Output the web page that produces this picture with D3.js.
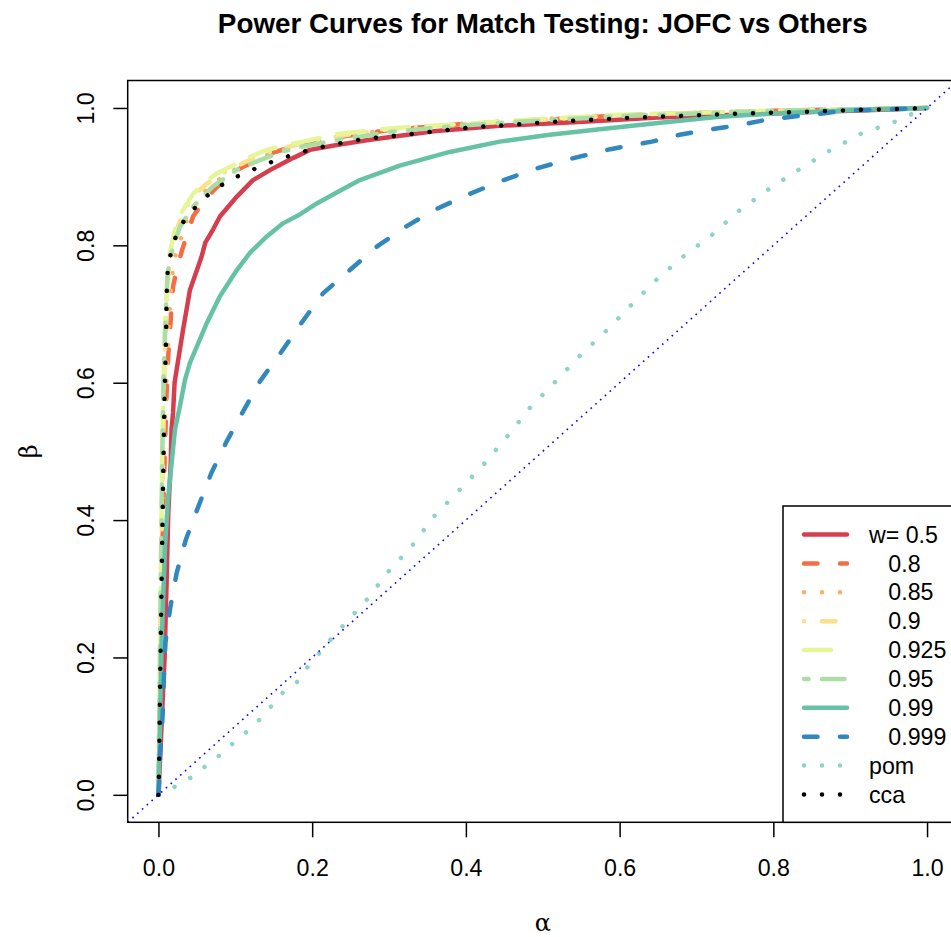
<!DOCTYPE html>
<html>
<head>
<meta charset="utf-8">
<script src="https://cdn.jsdelivr.net/npm/d3@7"></script>
<style>
  html, body { margin: 0; padding: 0; background: #ffffff; }
  svg { display: block; }
  text { font-family: "Liberation Sans", Arial, Helvetica, sans-serif; fill: #000; }
</style>
</head>
<body>
<svg id="chart" width="951" height="937"></svg>
<script>
// Power curves: each series is a list of [alpha, beta] pairs.
const w050 = [[0,0],[0.004,0.1],[0.008,0.2],[0.0107,0.313],[0.0128,0.411],[0.016,0.484],[0.017,0.532],[0.019,0.556],[0.021,0.6],[0.032,0.677],[0.041,0.735],[0.056,0.783],[0.061,0.804],[0.071,0.823],[0.08,0.842],[0.102,0.871],[0.123,0.895],[0.149,0.912],[0.175,0.927],[0.197,0.939],[0.232,0.946],[0.271,0.953],[0.358,0.966],[0.444,0.974],[0.553,0.98],[0.65,0.986],[0.75,0.99],[0.85,0.994],[0.93,0.997],[1,1]];
const w080 = [[0,0],[0.002,0.1],[0.004,0.3],[0.007,0.45],[0.0106,0.585],[0.0127,0.638],[0.016,0.692],[0.019,0.74],[0.025,0.77],[0.031,0.794],[0.045,0.842],[0.06,0.866],[0.076,0.885],[0.106,0.912],[0.149,0.935],[0.2,0.952],[0.3,0.968],[0.4,0.977],[0.5,0.983],[0.6,0.989],[0.7,0.993],[0.8,0.996],[0.9,0.998],[1,1]];
const w085 = [[0,0],[0.002,0.1],[0.004,0.3],[0.007,0.5],[0.011,0.62],[0.015,0.715],[0.017,0.742],[0.019,0.768],[0.0237,0.794],[0.032,0.818],[0.038,0.842],[0.051,0.866],[0.065,0.884],[0.084,0.9],[0.11,0.917],[0.154,0.937],[0.214,0.956],[0.3,0.968],[0.4,0.977],[0.5,0.984],[0.6,0.989],[0.7,0.993],[0.8,0.996],[0.9,0.998],[1,1]];
const w090 = [[0,0],[0.001,0.1],[0.003,0.3],[0.006,0.5],[0.008,0.62],[0.01,0.7],[0.014,0.775],[0.022,0.818],[0.033,0.85],[0.047,0.874],[0.063,0.89],[0.08,0.903],[0.1,0.914],[0.12,0.925],[0.145,0.936],[0.175,0.945],[0.2,0.951],[0.24,0.96],[0.3,0.969],[0.4,0.977],[0.5,0.983],[0.6,0.989],[0.7,0.993],[0.8,0.996],[0.9,0.998],[1,1]];
const w0925 = [[0,0],[0.001,0.1],[0.003,0.3],[0.005,0.5],[0.007,0.62],[0.009,0.7],[0.0137,0.783],[0.0215,0.823],[0.032,0.852],[0.045,0.875],[0.061,0.892],[0.076,0.905],[0.093,0.914],[0.115,0.927],[0.141,0.939],[0.171,0.947],[0.197,0.953],[0.232,0.962],[0.3,0.97],[0.4,0.977],[0.5,0.984],[0.6,0.99],[0.7,0.993],[0.8,0.996],[0.9,0.998],[1,1]];
const w095 = [[0,0],[0.001,0.1],[0.003,0.3],[0.005,0.5],[0.007,0.62],[0.0095,0.7],[0.012,0.76],[0.017,0.789],[0.028,0.827],[0.045,0.856],[0.071,0.886],[0.102,0.91],[0.132,0.924],[0.162,0.937],[0.188,0.944],[0.232,0.953],[0.3,0.965],[0.4,0.975],[0.5,0.982],[0.6,0.988],[0.7,0.992],[0.8,0.996],[0.9,0.998],[1,1]];
const w099 = [[0,0],[0.002,0.1],[0.004,0.216],[0.0085,0.362],[0.0128,0.435],[0.015,0.459],[0.0215,0.532],[0.028,0.566],[0.0345,0.604],[0.041,0.629],[0.063,0.687],[0.08,0.726],[0.102,0.764],[0.119,0.789],[0.141,0.813],[0.162,0.832],[0.184,0.845],[0.206,0.861],[0.232,0.877],[0.262,0.895],[0.314,0.916],[0.379,0.936],[0.444,0.951],[0.509,0.961],[0.574,0.969],[0.65,0.978],[0.726,0.987],[0.8,0.992],[0.863,0.995],[0.93,0.998],[1,1]];
const w0999 = [[0,0],[0.001,0.02],[0.002,0.056],[0.0054,0.115],[0.007,0.168],[0.009,0.221],[0.015,0.27],[0.0237,0.323],[0.0358,0.372],[0.052,0.42],[0.069,0.469],[0.089,0.515],[0.11,0.558],[0.132,0.602],[0.16,0.645],[0.186,0.687],[0.214,0.73],[0.249,0.764],[0.284,0.798],[0.323,0.828],[0.36,0.852],[0.405,0.875],[0.449,0.895],[0.492,0.912],[0.54,0.927],[0.588,0.94],[0.642,0.951],[0.678,0.961],[0.713,0.968],[0.755,0.975],[0.787,0.982],[0.822,0.987],[0.864,0.992],[0.892,0.996],[1,1]];
const pom = [[0,0],[0.0215,0.012],[0.042,0.025],[0.0605,0.041],[0.079,0.057],[0.096,0.074],[0.114,0.091],[0.131,0.109],[0.146,0.128],[0.162,0.149],[0.181,0.165],[0.194,0.186],[0.209,0.206],[0.224,0.226],[0.24,0.246],[0.271,0.284],[0.3,0.326],[0.331,0.364],[0.359,0.406],[0.392,0.444],[0.424,0.482],[0.454,0.522],[0.483,0.563],[0.516,0.601],[0.548,0.639],[0.582,0.675],[0.615,0.713],[0.649,0.751],[0.683,0.784],[0.72,0.815],[0.755,0.85],[0.793,0.881],[0.833,0.91],[0.872,0.937],[0.913,0.962],[0.958,0.98],[0.98,0.991],[1,1]];
const cca = [[0,0],[0.001,0.05],[0.002,0.15],[0.004,0.3],[0.006,0.45],[0.008,0.583],[0.0098,0.66],[0.0105,0.713],[0.011,0.742],[0.0124,0.769],[0.017,0.793],[0.024,0.818],[0.036,0.841],[0.052,0.86],[0.069,0.878],[0.088,0.892],[0.109,0.904],[0.131,0.914],[0.153,0.924],[0.175,0.932],[0.197,0.939],[0.22,0.945],[0.243,0.95],[0.267,0.955],[0.314,0.96],[0.361,0.966],[0.408,0.972],[0.455,0.975],[0.502,0.979],[0.55,0.982],[0.62,0.986],[0.692,0.989],[0.763,0.992],[0.833,0.994],[0.905,0.997],[0.976,0.999],[1,1]];

const seriesLabels = ["w= 0.5", "   0.8", "   0.85", "   0.9", "   0.925", "   0.95", "   0.99", "   0.999", "pom", "cca"];
const seriesData = [w050, w080, w085, w090, w0925, w095, w099, w0999, pom, cca];
const seriesColors = ["#D53E4F", "#F46D43", "#FDAE61", "#FEE08B", "#E6F598", "#ABDDA4", "#66C2A5", "#3288BD", "#8DD3C7", "#000000"];
// R line types 1..6, then recycled
const seriesLty = ["solid", "dashed", "dotted", "dotdash", "longdash", "twodash", "solid", "dashed", "dotted", "dotted"];

const xTicks = [0, 0.2, 0.4, 0.6, 0.8, 1.0];
const yTicks = [0, 0.2, 0.4, 0.6, 0.8, 1.0];
const titleText = "Power Curves for Match Testing: JOFC vs Others";

// dash patterns for a 4.5px line with round caps
const dashes = {
  solid: null,
  dashed: "13.5,22.5",
  dotted: "0.001,18",
  dotdash: "0.001,18,13.5,18",
  longdash: "27,18",
  twodash: "4.5,13.5,22.5,13.5"
};

const svg = d3.select("#chart");
const L = 127.7, R = 957.8, T = 80.5, B = 822.3;
const x = d3.scaleLinear().domain([-0.04, 1.04]).range([L, R]);
const y = d3.scaleLinear().domain([-0.04, 1.04]).range([B, T]);

svg.append("defs").append("clipPath").attr("id", "plotClip")
  .append("rect").attr("x", L).attr("y", T).attr("width", R - L).attr("height", B - T);

const plot = svg.append("g").attr("clip-path", "url(#plotClip)");
const line = d3.line().x(d => x(d[0])).y(d => y(d[1]));

seriesData.forEach((data, i) => {
  plot.append("path")
    .datum(data)
    .attr("d", line)
    .attr("fill", "none")
    .attr("stroke", seriesColors[i])
    .attr("stroke-width", 4.5)
    .attr("stroke-linecap", "round")
    .attr("stroke-linejoin", "round")
    .attr("stroke-dasharray", dashes[seriesLty[i]]);
});

// reference diagonal beta = alpha
plot.append("path")
  .datum([[-0.04, -0.04], [1.04, 1.04]])
  .attr("d", line)
  .attr("fill", "none")
  .attr("stroke", "#0000FF")
  .attr("stroke-width", 1.6)
  .attr("stroke-dasharray", "1.6,4.8");

// frame
svg.append("rect")
  .attr("x", L).attr("y", T).attr("width", R - L).attr("height", B - T)
  .attr("fill", "none").attr("stroke", "#000").attr("stroke-width", 1.5);

// x axis
const xAxis = svg.append("g").attr("transform", `translate(0,${B})`)
  .call(d3.axisBottom(x).tickValues(xTicks).tickFormat(d3.format(".1f")).tickSize(15).tickSizeOuter(0));
xAxis.select(".domain").remove();
xAxis.selectAll(".tick line").attr("stroke", "#000").attr("stroke-width", 1.5);
xAxis.selectAll(".tick text")
  .attr("y", 53.4).attr("dy", null)
  .style("font-family", '"Liberation Sans", Arial, sans-serif')
  .style("font-size", "23.2px").attr("fill", "#000");

// y axis
const yAxis = svg.append("g").attr("transform", `translate(${L},0)`)
  .call(d3.axisLeft(y).tickValues(yTicks).tickFormat(d3.format(".1f")).tickSize(14.4).tickSizeOuter(0));
yAxis.select(".domain").remove();
yAxis.selectAll(".tick line").attr("stroke", "#000").attr("stroke-width", 1.5);
yAxis.selectAll(".tick text")
  .attr("x", null).attr("dy", null).attr("y", null)
  .attr("text-anchor", "middle")
  .attr("transform", "translate(-33.4,0) rotate(-90)")
  .style("font-family", '"Liberation Sans", Arial, sans-serif')
  .style("font-size", "23.2px").attr("fill", "#000");

// axis titles
svg.append("text")
  .attr("x", (L + R) / 2).attr("y", 931)
  .attr("text-anchor", "middle")
  .style("font-family", '"DejaVu Serif", "Liberation Serif", serif')
  .style("font-size", "24px")
  .text("α");
svg.append("text")
  .attr("transform", `translate(37,${(T + B) / 2}) rotate(-90)`)
  .attr("text-anchor", "middle")
  .style("font-family", '"DejaVu Serif", "Liberation Serif", serif')
  .style("font-size", "24px")
  .text("β");

// title
svg.append("text")
  .attr("x", (L + R) / 2).attr("y", 33)
  .attr("text-anchor", "middle")
  .style("font-size", "27.8px").style("font-weight", "bold")
  .text(titleText);

// legend anchored at the bottom-right corner of the plot
const legTop = 506, legLeft = 783;
const legend = svg.append("g");
legend.append("rect")
  .attr("x", legLeft).attr("y", legTop).attr("width", R - legLeft).attr("height", B - legTop)
  .attr("fill", "#fff").attr("stroke", "#000").attr("stroke-width", 1.5);
const rowY = d3.scaleLinear().domain([0, seriesLabels.length - 1]).range([534.6, 794.5]);
seriesLabels.forEach((lab, i) => {
  const yy = rowY(i);
  legend.append("path")
    .attr("d", `M804,${yy}H847`)
    .attr("fill", "none")
    .attr("stroke", seriesColors[i])
    .attr("stroke-width", 4.5)
    .attr("stroke-linecap", "round")
    .attr("stroke-dasharray", dashes[seriesLty[i]]);
  legend.append("text")
    .attr("x", 869).attr("y", yy).attr("dy", "0.35em")
    .style("font-size", "23.2px")
    .style("white-space", "pre")
    .attr("xml:space", "preserve")
    .text(lab);
});
</script>
</body>
</html>
